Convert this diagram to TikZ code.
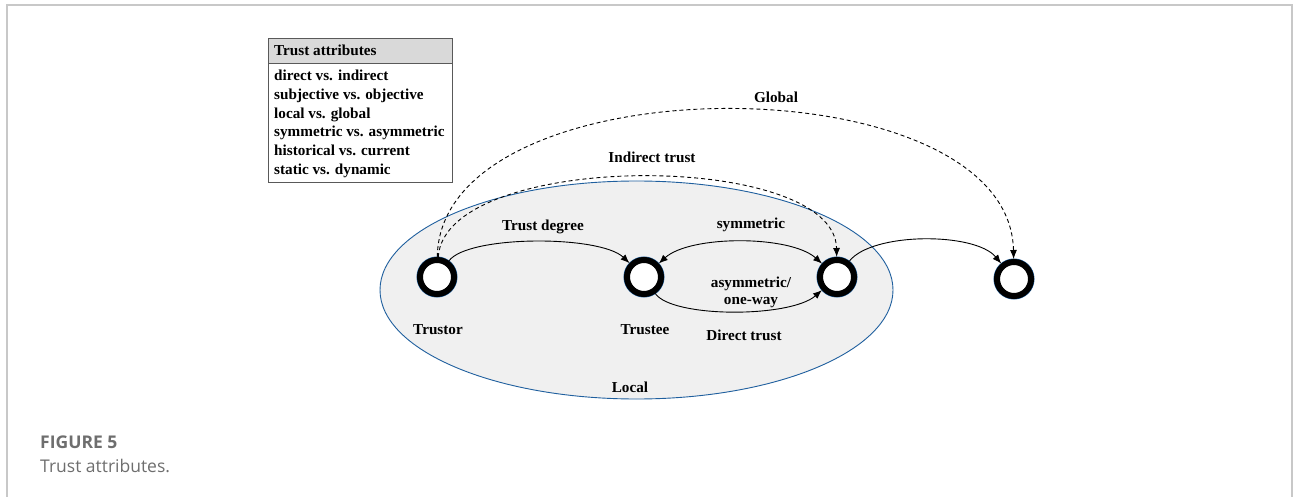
\documentclass[tikz,border=0pt]{standalone}
\usepackage{fontspec}
\setmainfont{Liberation Serif}
\newfontfamily\capfont{Open Sans}
\usetikzlibrary{arrows.meta}
\definecolor{framegray}{HTML}{C8C8C8}
\definecolor{ringblue}{HTML}{1F5F9E}
\definecolor{zonefill}{HTML}{F0F0F0}
\definecolor{headfill}{HTML}{D9D9D9}
\definecolor{capgray}{HTML}{6E6E6E}
\tikzset{
  agent/.style={circle, minimum size=34pt, inner sep=0pt, draw=black, line width=6pt,
    fill=white, preaction={draw=ringblue, line width=7pt}},
  lbl/.style={font=\fontsize{15.2}{17}\selectfont\bfseries, inner sep=0pt, anchor=base},
  link/.style={line width=0.9pt, -{Latex[length=9pt,width=7pt]}},
  bilink/.style={line width=0.9pt, {Latex[length=9pt,width=7pt]}-{Latex[length=9pt,width=7pt]}},
  farlink/.style={link, dash pattern=on 4pt off 3pt},
}
\begin{document}
\begin{tikzpicture}[x=1pt,y=-1pt]
\useasboundingbox (0,0) rectangle (1293,497);
% outer frame, open at the bottom
\draw[framegray, line width=1.5pt] (7,497) -- (7,5) -- (1292,5) -- (1292,497);

% attribute list
\node[draw=gray!70!black, fill=headfill, line width=0.8pt, minimum width=184pt, minimum height=25pt,
  anchor=north west, inner sep=0pt] (head) at (268,38) {};
\node[lbl, anchor=base west] (headtxt) at (274,56) {Trust attributes};
\node[draw=gray!70!black, fill=white, line width=0.8pt, minimum width=184pt, minimum height=119pt,
  anchor=north west, inner sep=0pt] (body) at (268,63) {};
\node[anchor=north west, inner sep=0pt, align=left,
  font=\fontsize{15.2}{18.7}\selectfont\bfseries] (list) at (274,70)
  {direct vs. indirect\\subjective vs. objective\\local vs. global\\symmetric vs. asymmetric\\historical vs. current\\static vs. dynamic};

% local zone
\draw[ringblue, fill=zonefill, line width=0.9pt] (636.5,290) ellipse [x radius=256.5, y radius=109];

% agents
\node[agent] (trustor) at (437,277) {};
\node[agent] (trustee) at (644,277) {};
\node[agent] (peer) at (837,277) {};
\node[agent] (remote) at (1014,279) {};

% relations
\draw[link] (trustor) .. controls (468,235) and (600,235) .. (trustee);
\draw[bilink] (trustee) .. controls (690,235) and (790,235) .. (peer);
\draw[link] (trustee) .. controls (672,318) and (790,318) .. (peer);
\draw[link] (peer) .. controls (872,232) and (975,232) .. (remote);
\draw[farlink] (trustor) .. controls (445,150) and (835,150) .. (peer);
\draw[farlink] (trustor) .. controls (440,60) and (1010,60) .. (remote);

% labels
\node[lbl] (tdeg) at (543,230) {Trust degree};
\node[lbl] (sym) at (751,229) {symmetric};
\node[lbl] (asym) at (751,287) {asymmetric/};
\node[lbl] (oneway) at (751,304) {one-way};
\node[lbl] (ltrustor) at (438,334) {Trustor};
\node[lbl] (ltrustee) at (645,334) {Trustee};
\node[lbl] (direct) at (744,340) {Direct trust};
\node[lbl] (indirect) at (652,163) {Indirect trust};
\node[lbl] (global) at (776,103) {Global};
\node[lbl] (local) at (630,392) {Local};

% caption
\node[anchor=base west, inner sep=0pt, text=capgray, font=\capfont\fontsize{17.5}{20}\selectfont\bfseries] (fig) at (40,448) {FIGURE 5};
\node[anchor=base west, inner sep=0pt, text=capgray, font=\capfont\fontsize{17.5}{20}\selectfont] (cap) at (40,472) {Trust attributes.};
\end{tikzpicture}
\end{document}
